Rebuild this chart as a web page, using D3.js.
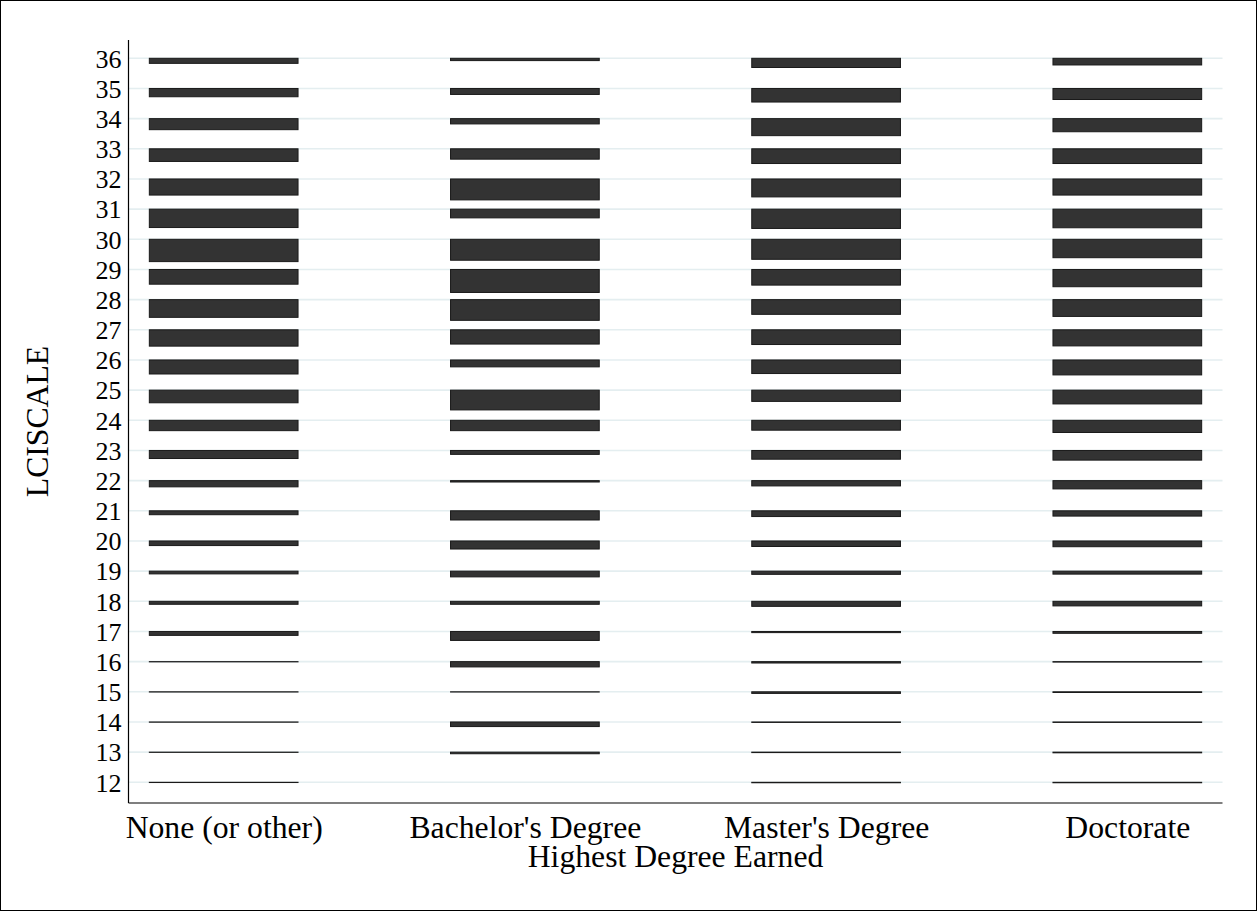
<!DOCTYPE html>
<html>
<head>
<meta charset="utf-8">
<script src="https://cdn.jsdelivr.net/npm/d3@7"></script>
<style>
  html, body { margin: 0; padding: 0; background: #fff; }
  svg { display: block; }
  text { font-family: "Liberation Serif", "Times New Roman", serif; fill: #000; }
</style>
</head>
<body>
<svg id="chart" width="1257" height="911"></svg>
<script>
// LCISCALE score levels (y axis ticks), low to high
const scoreLevels = [12, 13, 14, 15, 16, 17, 18, 19, 20, 21, 22, 23, 24, 25, 26, 27, 28, 29, 30, 31, 32, 33, 34, 35, 36];

// Highest degree categories (x axis)
const degreeLabels = ["None (or other)", "Bachelor's Degree", "Master's Degree", "Doctorate"];

// Percent of each degree group at each score, ordered as scoreLevels
const noneShare      = [0.1, 0.1, 0.1, 0.1, 0.1, 1.7, 1.3, 1.2, 2.0, 1.7, 2.7, 3.5, 4.5, 5.5, 6.1, 7.1, 7.7, 6.4, 9.7, 8.0, 7.0, 5.5, 4.8, 3.6, 2.2];
const bachelorShare  = [0.0, 0.7, 2.0, 0.1, 2.3, 3.9, 1.3, 2.5, 3.5, 4.0, 0.6, 1.7, 4.5, 8.6, 3.0, 6.2, 9.0, 10.0, 9.1, 3.8, 9.1, 4.5, 2.3, 2.6, 1.0];
const masterShare    = [0.2, 0.2, 0.2, 0.7, 0.6, 0.5, 2.2, 1.4, 2.4, 2.5, 2.3, 3.8, 4.3, 4.9, 5.9, 6.4, 6.4, 6.8, 8.7, 8.4, 7.8, 6.4, 7.4, 5.9, 4.0];
const doctorateShare = [0.2, 0.3, 0.2, 0.3, 0.2, 0.8, 2.0, 1.3, 2.5, 2.3, 3.6, 4.2, 5.3, 6.0, 6.5, 7.0, 7.3, 7.5, 8.0, 8.1, 7.0, 6.4, 5.7, 4.8, 2.9];

const shareSeries = [noneShare, bachelorShare, masterShare, doctorateShare];

const svg = d3.select("#chart");
const W = 1257, H = 911;
const plot = { left: 128.5, right: 1222.5, top: 40, bottom: 803 };

// outer frame
svg.append("rect")
  .attr("x", 0.5).attr("y", 0.5)
  .attr("width", W - 1).attr("height", H - 1)
  .attr("fill", "#fff").attr("stroke", "#000").attr("stroke-width", 1);

const x = d3.scalePoint()
  .domain(degreeLabels)
  .range([plot.left, plot.right])
  .padding(0.316);

const y = d3.scaleLinear()
  .domain([12, 36])
  .range([782.3, 58.3]);

// bar thickness grows with the share in each cell
const thickness = d3.scaleLinear().domain([0, 10]).range([0, 23]);
const barWidth = x.step() * 0.497;

// horizontal grid
svg.append("g")
  .selectAll("line")
  .data(scoreLevels)
  .join("line")
  .attr("x1", plot.left).attr("x2", plot.right)
  .attr("y1", d => y(d)).attr("y2", d => y(d))
  .attr("stroke", "#e4eef0")
  .attr("stroke-width", 1.6);

// bars: one per (degree, score) cell, hanging down from the score line
const cells = [];
degreeLabels.forEach((deg, i) => {
  scoreLevels.forEach((s, j) => {
    const v = shareSeries[i][j];
    if (v > 0) cells.push({ deg, score: s, value: v });
  });
});

svg.append("g")
  .selectAll("rect")
  .data(cells)
  .join("rect")
  .attr("x", d => x(d.deg) - barWidth / 2 + 0.5)
  .attr("width", barWidth - 1)
  .attr("y", d => y(d.score))
  .attr("height", d => thickness(d.value))
  .attr("fill", "#333333")
  .attr("stroke", "#1a1a1a")
  .attr("stroke-width", 1);

// y axis
const yAxis = svg.append("g")
  .attr("transform", `translate(${plot.left},0)`)
  .call(d3.axisLeft(y).tickValues(scoreLevels).tickFormat(d3.format("d")).tickSize(0).tickPadding(7));
yAxis.select(".domain").attr("d", `M0,${plot.top}V${plot.bottom}`).attr("stroke", "#000").attr("stroke-width", 1.2);
yAxis.selectAll("text")
  .attr("dy", "0.34em")
  .style("font-family", "'Liberation Serif', 'Times New Roman', serif")
  .style("font-size", "26px")
  .attr("fill", "#000");

// x axis
const xAxis = svg.append("g")
  .attr("transform", `translate(0,${plot.bottom})`)
  .call(d3.axisBottom(x).tickSize(0).tickPadding(12));
xAxis.select(".domain").attr("d", `M${plot.left},0H${plot.right}`).attr("stroke", "#000").attr("stroke-width", 1.2);
xAxis.selectAll("text")
  .style("font-family", "'Liberation Serif', 'Times New Roman', serif")
  .style("font-size", "31.7px")
  .attr("fill", "#000");

// axis titles
svg.append("text")
  .attr("x", (plot.left + plot.right) / 2)
  .attr("y", 867)
  .attr("text-anchor", "middle")
  .style("font-size", "31.7px")
  .text("Highest Degree Earned");

svg.append("text")
  .attr("transform", `translate(47.5,${(plot.top + plot.bottom) / 2}) rotate(-90)`)
  .attr("text-anchor", "middle")
  .style("font-size", "31.7px")
  .text("LCISCALE");
</script>
</body>
</html>
